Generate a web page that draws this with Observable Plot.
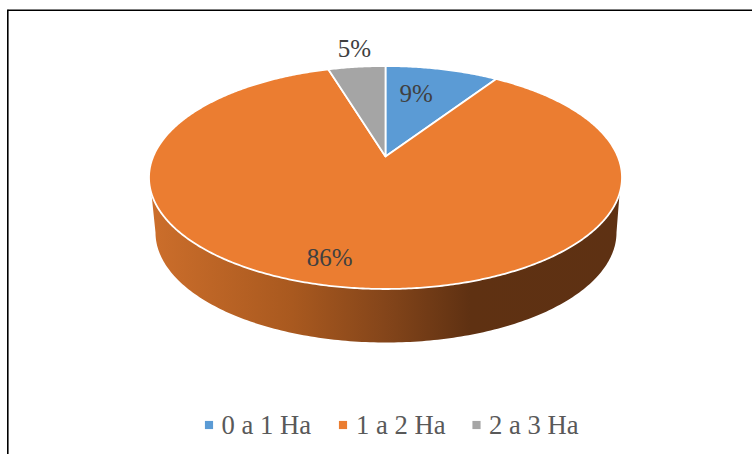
<!DOCTYPE html>
<html><head><meta charset="utf-8">
<script src="https://cdn.jsdelivr.net/npm/d3@7"></script>
<script src="https://cdn.jsdelivr.net/npm/@observablehq/plot@0.6"></script>
<style>html,body{margin:0;padding:0;background:#fff}svg{display:block}</style>
</head><body><div id="c"></div>
<script>
const categories = ["0 a 1 Ha", "1 a 2 Ha", "2 a 3 Ha"];
const values = [9.3, 86, 4.7];
const colors = ["#5B9BD5", "#EB7D31", "#A5A5A5"];

const W = 752, H = 454;
const top3d = {cx: 385, cy: 177, rx: 236.5, ry: 111.5, tilt: 0.189};
const base3d = {cx: 385.5, cy: 232, rx: 230.5, ry: 110};

// perspective view of a circle: r in units of radius, a clockwise from 12 o'clock
function project(a, r = 1) {
  const u = r * Math.sin(a), v = r * Math.cos(a), c = top3d.tilt;
  const d = 1 + c * v;
  return [top3d.cx + top3d.rx * u * Math.sqrt(1 - c * c) / d,
          top3d.cy - top3d.ry * (v + c) / d];
}
const pie = d3.pie().sort(null).value(d => d)(values);
const slicePath = s => {
  const n = Math.ceil((s.endAngle - s.startAngle) / 0.01);
  const pts = [project(0, 0)];
  for (let i = 0; i <= n; i++) pts.push(project(s.startAngle + (s.endAngle - s.startAngle) * i / n));
  return pts;
};

// side wall
const side = [];
const tStart = Math.asin(16 / top3d.ry);
side.push([top3d.cx - top3d.rx * Math.cos(tStart), top3d.cy + top3d.ry * Math.sin(tStart)]);
for (let t = 180; t >= 0; t -= 1) {
  const r = t * Math.PI / 180;
  side.push([base3d.cx + base3d.rx * Math.cos(r), base3d.cy + base3d.ry * Math.sin(r)]);
}
side.push([top3d.cx + top3d.rx * Math.cos(tStart), top3d.cy + top3d.ry * Math.sin(tStart)]);

// data labels: radius along the slice's mid-angle plus a nudge
const labelLayout = [{r: 0.7, dx: -11, dy: 2}, {r: 0.85, dx: -22, dy: -6}, {r: 1.1, dx: 0, dy: -10}];
const labels = pie.map((s, i) => {
  const [x, y] = project((s.startAngle + s.endAngle) / 2, labelLayout[i].r);
  return {x: x + labelLayout[i].dx, y: y + labelLayout[i].dy, text: Math.round(values[i]) + "%"};
});

// legend
const legendLayout = [{sx: 208.5, tx: 221}, {sx: 342.5, tx: 355.5}, {sx: 476, tx: 488.5}];
const legendY = 424.5;
const legend = categories.map((c, i) => ({name: c, color: colors[i], ...legendLayout[i]}));

const font = "Liberation Serif";
const chart = Plot.plot({
  width: W, height: H, margin: 0,
  x: {domain: [0, W], range: [0, W], axis: null},
  y: {domain: [0, H], range: [0, H], axis: null},
  marks: [
    Plot.ruleX([7.3], {y1: 9.8, y2: H, stroke: "#000", strokeWidth: 1.6}),
    Plot.ruleY([9.8], {x1: 7.3, x2: W, stroke: "#000", strokeWidth: 1.6}),
    Plot.line(side, {x: d => d[0], y: d => d[1], curve: "linear-closed", fill: "url(#wall)", stroke: "none"}),
    ...pie.map((s, i) => Plot.line(slicePath(s), {
      x: d => d[0], y: d => d[1], curve: "linear-closed",
      fill: colors[i], stroke: "#fff", strokeWidth: 1.8, strokeLinejoin: "round"
    })),
    Plot.text(labels, {x: "x", y: "y", text: "text", fontSize: 25, fontFamily: font, fill: "#404040", textAnchor: "middle", lineAnchor: "middle"}),
    Plot.dot(legend, {x: "sx", y: () => legendY, symbol: "square", r: 4.6, fill: "color", stroke: "none"}),
    Plot.text(legend, {x: "tx", y: () => legendY, text: "name", fontSize: 26.67, fontFamily: font, fill: "#595959", textAnchor: "start", lineAnchor: "middle"})
  ]
});
const stops = [[0, "#cc6e2b"], [0.30, "#a9591f"], [0.50, "#84451a"], [0.68, "#5f3112"], [1, "#5e3113"]];
const grad = d3.select(chart).append("defs").append("linearGradient")
  .attr("id", "wall").attr("x1", 0).attr("x2", 1).attr("y1", 0).attr("y2", 0);
stops.forEach(([o, c]) => grad.append("stop").attr("offset", o).attr("stop-color", c));
document.getElementById("c").appendChild(chart);
</script></body></html>
